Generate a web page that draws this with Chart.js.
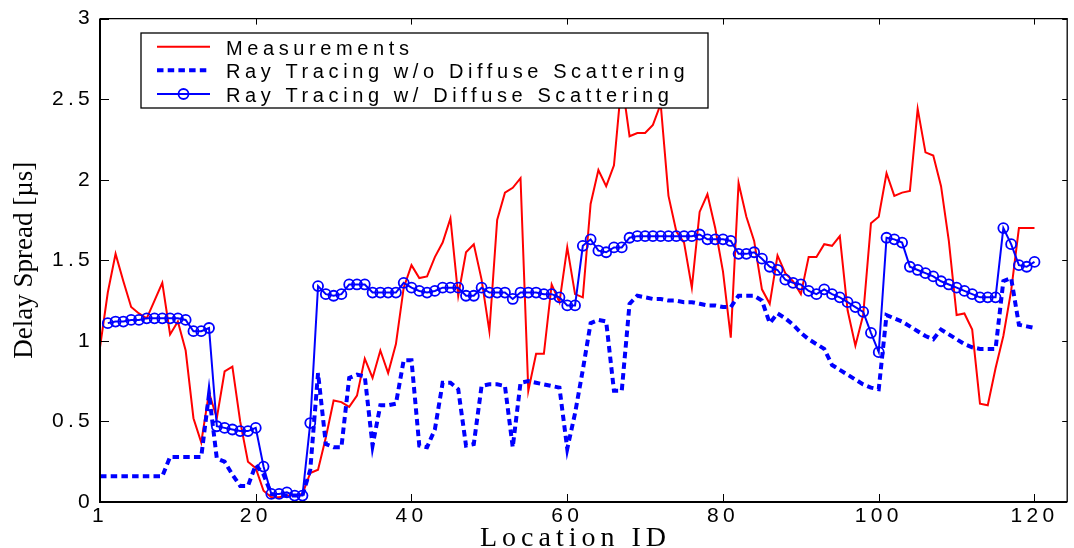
<!DOCTYPE html>
<html><head><meta charset="utf-8">
<script src="https://cdn.jsdelivr.net/npm/chart.js@4/dist/chart.umd.min.js"></script>
<style>html,body{margin:0;padding:0;background:#fff;}canvas{display:block;}</style>
</head><body>
<canvas id="c" width="1074" height="548"></canvas>
<script>
// ---- data (index = location ID; index 0 is the left boundary value) ----
const measurements = [0.96,1.30,1.54,1.37,1.21,1.17,1.14,1.25,1.36,1.04,
1.12,0.94,0.52,0.37,0.68,0.52,0.81,0.84,0.50,0.25,
0.21,0.07,0.03,0.03,0.04,0.04,0.05,0.18,0.20,0.40,
0.63,0.62,0.59,0.66,0.89,0.77,0.94,0.80,0.98,1.33,
1.47,1.39,1.40,1.52,1.61,1.76,1.28,1.55,1.60,1.38,
1.06,1.75,1.92,1.95,2.01,0.69,0.92,0.92,1.35,1.24,
1.58,1.29,1.27,1.85,2.06,1.96,2.09,2.62,2.27,2.29,
2.29,2.34,2.47,1.90,1.68,1.61,1.33,1.80,1.91,1.70,
1.43,1.02,1.98,1.77,1.62,1.32,1.23,1.53,1.42,1.37,
1.29,1.52,1.52,1.60,1.59,1.65,1.19,0.97,1.16,1.73,
1.77,2.04,1.90,1.92,1.93,2.44,2.17,2.15,1.96,1.62,
1.16,1.17,1.07,0.61,0.60,0.83,1.03,1.31,1.70,1.70,1.70];
const rtNoDiffuse = [0.16,0.16,0.16,0.16,0.16,0.16,0.16,0.16,0.16,0.28,
0.28,0.28,0.28,0.28,0.67,0.27,0.25,0.17,0.10,0.10,
0.23,0.17,0.05,0.04,0.04,0.04,0.04,0.20,0.80,0.36,
0.34,0.34,0.77,0.79,0.78,0.35,0.60,0.60,0.61,0.88,
0.88,0.35,0.34,0.45,0.74,0.74,0.70,0.35,0.36,0.72,
0.73,0.73,0.72,0.34,0.74,0.75,0.74,0.73,0.72,0.71,
0.33,0.55,0.82,1.11,1.13,1.12,0.69,0.69,1.23,1.28,
1.27,1.26,1.26,1.25,1.25,1.24,1.24,1.23,1.22,1.22,
1.21,1.21,1.28,1.28,1.28,1.25,1.11,1.17,1.14,1.10,
1.05,1.01,0.98,0.95,0.85,0.82,0.79,0.76,0.73,0.71,
0.70,1.16,1.14,1.12,1.09,1.06,1.03,1.01,1.07,1.04,
1.01,0.98,0.96,0.95,0.95,0.95,1.37,1.39,1.10,1.09,1.08];
// locations 1..120
const rtDiffuse = [1.11,1.12,1.12,1.13,1.13,1.14,1.14,1.14,1.14,1.14,
1.13,1.06,1.06,1.08,0.47,0.46,0.45,0.44,0.44,0.46,
0.22,0.05,0.05,0.06,0.04,0.04,0.49,1.34,1.29,1.28,
1.29,1.35,1.35,1.35,1.30,1.30,1.30,1.30,1.36,1.33,
1.31,1.30,1.31,1.33,1.33,1.33,1.28,1.28,1.33,1.30,
1.30,1.30,1.26,1.30,1.30,1.30,1.29,1.29,1.27,1.22,
1.22,1.59,1.63,1.56,1.55,1.58,1.58,1.64,1.65,1.65,
1.65,1.65,1.65,1.65,1.65,1.65,1.66,1.63,1.63,1.63,
1.62,1.54,1.54,1.55,1.51,1.46,1.44,1.38,1.36,1.35,
1.31,1.29,1.32,1.29,1.27,1.24,1.21,1.18,1.05,0.93,
1.64,1.63,1.61,1.46,1.44,1.42,1.40,1.37,1.35,1.33,
1.31,1.29,1.27,1.27,1.27,1.70,1.60,1.47,1.46,1.49];
const xTickValues = [0,20,40,60,80,100,120];
const xTickLabels = ['1','20','40','60','80','100','120'];
const yTickValues = [0,0.5,1,1.5,2,2.5,3];
const legendLabels = ['Measurements','Ray Tracing w/o Diffuse Scattering','Ray Tracing w/ Diffuse Scattering'];
const xTitle = 'Location ID';
const yTitle = 'Delay Spread [\u00b5s]';

const framePlugin = {
  id: 'frame',
  beforeDraw(chart) { chart.ctx.letterSpacing = '4.3px'; },
  afterDraw(chart) {
    const ctx = chart.ctx, a = chart.chartArea;
    const xs = chart.scales.x, ys = chart.scales.y;
    ctx.save();
    ctx.letterSpacing = '0px';
    ctx.strokeStyle = '#000';
    ctx.lineWidth = 2;
    ctx.beginPath();
    ctx.moveTo(a.left, a.top); ctx.lineTo(a.left, a.bottom); ctx.lineTo(a.right, a.bottom);
    ctx.stroke();
    ctx.lineWidth = 1.3;
    ctx.beginPath();
    ctx.moveTo(a.left, a.top); ctx.lineTo(a.right, a.top); ctx.lineTo(a.right, a.bottom);
    ctx.stroke();
    ctx.lineWidth = 1;
    ctx.beginPath();
    xTickValues.forEach(v => {
      const px = Math.round(xs.getPixelForValue(v)) + 0.5;
      ctx.moveTo(px, a.bottom); ctx.lineTo(px, a.bottom - 8);
      ctx.moveTo(px, a.top); ctx.lineTo(px, a.top + 6);
    });
    yTickValues.forEach(v => {
      const py = Math.round(ys.getPixelForValue(v)) + 0.5;
      ctx.moveTo(a.left, py); ctx.lineTo(a.left + 9, py);
      ctx.moveTo(a.right, py); ctx.lineTo(a.right - 5, py);
    });
    ctx.stroke();

    // axis titles
    ctx.fillStyle = '#000';
    ctx.font = '27px "Liberation Serif", "Times New Roman", serif';
    ctx.save();
    ctx.translate(32, (a.top + a.bottom) / 2);
    ctx.rotate(-Math.PI / 2);
    ctx.textAlign = 'center';
    ctx.textBaseline = 'alphabetic';
    ctx.fillText(yTitle, 0, 0);
    ctx.restore();
    ctx.font = '28px "Liberation Serif", "Times New Roman", serif';
    ctx.letterSpacing = '5px';
    ctx.textAlign = 'left';
    ctx.textBaseline = 'alphabetic';
    ctx.fillText(xTitle, 480, 546);

    // legend box
    const L = 141, T = 33, W = 567, H = 75;
    ctx.fillStyle = '#fff';
    ctx.fillRect(L, T, W, H);
    ctx.lineWidth = 1.3;
    ctx.strokeStyle = '#000';
    ctx.strokeRect(L, T, W, H);
    const rows = [46.7, 70.2, 94];
    const ds = chart.data.datasets;
    rows.forEach((ry, i) => {
      const d = ds[i];
      ctx.save();
      ctx.strokeStyle = d.borderColor;
      ctx.lineWidth = d.borderWidth;
      ctx.setLineDash(d.borderDash || []);
      ctx.lineCap = 'butt';
      ctx.beginPath();
      ctx.moveTo(157, ry); ctx.lineTo(210, ry);
      ctx.stroke();
      if (d.pointRadius > 0) {
        ctx.setLineDash([]);
        ctx.lineWidth = d.pointBorderWidth;
        ctx.beginPath();
        ctx.arc(183.5, ry, d.pointRadius, 0, Math.PI * 2);
        ctx.stroke();
      }
      ctx.restore();
      ctx.fillStyle = '#000';
      ctx.font = '20px "Liberation Sans", Arial, sans-serif';
      ctx.letterSpacing = '4.6px';
      ctx.textAlign = 'left';
      ctx.textBaseline = 'alphabetic';
      ctx.fillText(legendLabels[i], 226, ry + 8.2);
    });
    ctx.restore();
  }
};

new Chart(document.getElementById('c'), {
  type: 'line',
  data: {
    datasets: [
      { label: legendLabels[0], data: measurements.map((v, i) => ({ x: i, y: v })),
        borderColor: '#ff0000', borderWidth: 2, pointRadius: 0, tension: 0, order: 3 },
      { label: legendLabels[1], data: rtNoDiffuse.map((v, i) => ({ x: i, y: v })),
        borderColor: '#0000ff', borderWidth: 4, borderDash: [6.5, 4.2], borderCapStyle: 'butt',
        pointRadius: 0, tension: 0, order: 2 },
      { label: legendLabels[2], data: rtDiffuse.map((v, i) => ({ x: i + 1, y: v })),
        borderColor: '#0000ff', borderWidth: 2, pointRadius: 5, pointBorderWidth: 1.8,
        pointBackgroundColor: 'rgba(0,0,0,0)', pointBorderColor: '#0000ff', tension: 0, order: 1 }
    ]
  },
  options: {
    responsive: false,
    devicePixelRatio: 1,
    animation: false,
    layout: { padding: { left: 0, right: 1, top: 16, bottom: 0 } },
    plugins: { legend: { display: false }, tooltip: { enabled: false } },
    scales: {
      x: {
        type: 'linear', min: 0, max: 124.2,
        afterBuildTicks: s => { s.ticks = xTickValues.map(v => ({ value: v })); },
        afterFit: s => { s.height = 46; },
        grid: { display: false, drawTicks: false },
        border: { display: false },
        ticks: {
          padding: 2, color: '#000', maxRotation: 0, autoSkip: false,
          font: { family: '"Liberation Sans", Arial, sans-serif', size: 21 },
          callback: v => xTickLabels[xTickValues.indexOf(v)]
        }
      },
      y: {
        type: 'linear', min: 0, max: 3,
        afterBuildTicks: s => { s.ticks = yTickValues.map(v => ({ value: v })); },
        afterFit: s => { s.width = 100; },
        grid: { display: false, drawTicks: false },
        border: { display: false },
        ticks: {
          padding: 6, color: '#000',
          font: { family: '"Liberation Sans", Arial, sans-serif', size: 21 },
          callback: v => String(v)
        }
      }
    }
  },
  plugins: [framePlugin]
});
</script>
</body></html>
